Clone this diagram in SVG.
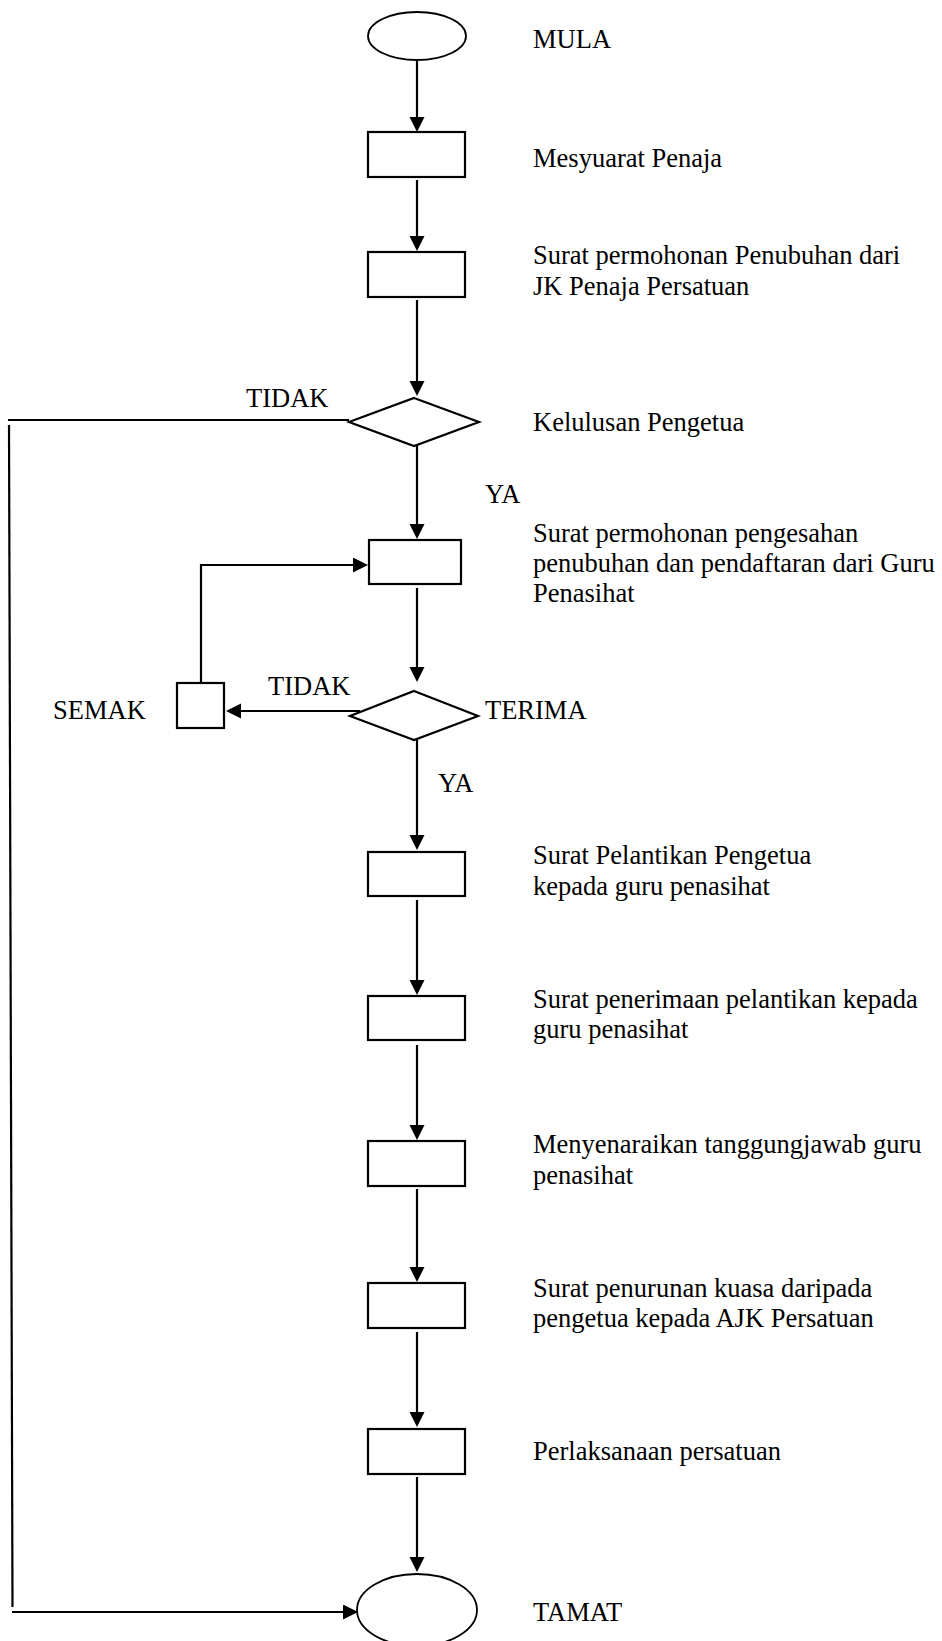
<svg xmlns="http://www.w3.org/2000/svg" width="942" height="1641" viewBox="0 0 942 1641">
  <style>
    .shape { fill: #ffffff; stroke: #000000; stroke-width: 2.2; }
    .oval { fill: #ffffff; stroke: #000000; stroke-width: 1.8; }
    .link { fill: none; stroke: #000000; stroke-width: 2.2; }
    .arrow { fill: none; stroke: #000000; stroke-width: 2.2; marker-end: url(#head); }
    text { font-family: "Liberation Serif", "Times New Roman", serif; font-size: 26.5px; fill: #000000; }
  </style>
  <defs>
    <marker id="head" markerUnits="userSpaceOnUse" markerWidth="15" markerHeight="16" refX="9" refY="7.5" orient="auto">
      <path d="M0,0 L15,7.5 L0,15 Z" fill="#000000"/>
    </marker>
  </defs>
  <rect width="942" height="1641" fill="#ffffff"/>

  <!-- connectors -->
  <g id="connectors">
    <line class="arrow" x1="417" y1="60" x2="417" y2="126"/>
    <line class="arrow" x1="417" y1="180" x2="417" y2="245"/>
    <line class="arrow" x1="417" y1="300" x2="417" y2="390"/>
    <!-- TIDAK from Kelulusan straight down to TAMAT -->
    <polyline class="link" points="349,420 8,420"/>
    <line class="link" x1="9" y1="425" x2="12.5" y2="1607"/>
    <line class="arrow" x1="12" y1="1612" x2="352" y2="1612"/>
    <!-- YA -->
    <line class="arrow" x1="417" y1="446" x2="417" y2="533"/>
    <!-- SEMAK loops back to the request letter -->
    <polyline class="arrow" points="201,683 201,565 362,565"/>
    <line class="arrow" x1="417" y1="588" x2="417" y2="676"/>
    <line class="arrow" x1="360" y1="711" x2="232" y2="711"/>
    <line class="arrow" x1="417" y1="740" x2="417" y2="844"/>
    <line class="arrow" x1="417" y1="900" x2="417" y2="989"/>
    <line class="arrow" x1="417" y1="1045" x2="417" y2="1134"/>
    <line class="arrow" x1="417" y1="1189" x2="417" y2="1276"/>
    <line class="arrow" x1="417" y1="1332" x2="417" y2="1421"/>
    <line class="arrow" x1="417" y1="1477" x2="417" y2="1566"/>
  </g>

  <g id="mula">
    <ellipse class="oval" cx="417" cy="36" rx="49" ry="24"/>
    <text x="533" y="48">MULA</text>
  </g>
  <g id="mesyuarat">
    <rect class="shape" x="368" y="132" width="97" height="45"/>
    <text x="533" y="167">Mesyuarat Penaja</text>
  </g>
  <g id="surat-permohonan">
    <rect class="shape" x="368" y="252" width="97" height="45"/>
    <text x="533" y="264">Surat permohonan Penubuhan dari</text>
    <text x="533" y="295">JK Penaja Persatuan</text>
  </g>
  <g id="kelulusan">
    <polygon class="shape" points="414,398 479,422 414,446 349,422"/>
    <text x="533" y="431">Kelulusan Pengetua</text>
    <text x="246" y="407">TIDAK</text>
    <text x="485" y="503">YA</text>
  </g>
  <g id="pengesahan">
    <rect class="shape" x="369" y="540" width="92" height="44"/>
    <text x="533" y="542">Surat permohonan pengesahan</text>
    <text x="533" y="572">penubuhan dan pendaftaran dari Guru</text>
    <text x="533" y="602">Penasihat</text>
  </g>
  <g id="terima">
    <polygon class="shape" points="414,691 478,716 414,740 350,716"/>
    <text x="485" y="719">TERIMA</text>
    <text x="268" y="695">TIDAK</text>
    <text x="438" y="792">YA</text>
  </g>
  <g id="semak">
    <rect class="shape" x="177" y="683" width="47" height="45"/>
    <text x="53" y="719">SEMAK</text>
  </g>
  <g id="pelantikan">
    <rect class="shape" x="368" y="852" width="97" height="44"/>
    <text x="533" y="864">Surat Pelantikan Pengetua</text>
    <text x="533" y="895">kepada guru penasihat</text>
  </g>
  <g id="penerimaan">
    <rect class="shape" x="368" y="996" width="97" height="44"/>
    <text x="533" y="1008">Surat penerimaan pelantikan kepada</text>
    <text x="533" y="1038">guru penasihat</text>
  </g>
  <g id="tanggungjawab">
    <rect class="shape" x="368" y="1141" width="97" height="45"/>
    <text x="533" y="1153">Menyenaraikan tanggungjawab guru</text>
    <text x="533" y="1184">penasihat</text>
  </g>
  <g id="penurunan-kuasa">
    <rect class="shape" x="368" y="1283" width="97" height="45"/>
    <text x="533" y="1297">Surat penurunan kuasa daripada</text>
    <text x="533" y="1327">pengetua kepada AJK Persatuan</text>
  </g>
  <g id="perlaksanaan">
    <rect class="shape" x="368" y="1429" width="97" height="45"/>
    <text x="533" y="1460">Perlaksanaan persatuan</text>
  </g>
  <g id="tamat">
    <ellipse class="oval" cx="417" cy="1610" rx="60" ry="36"/>
    <text x="533" y="1621">TAMAT</text>
  </g>
</svg>
